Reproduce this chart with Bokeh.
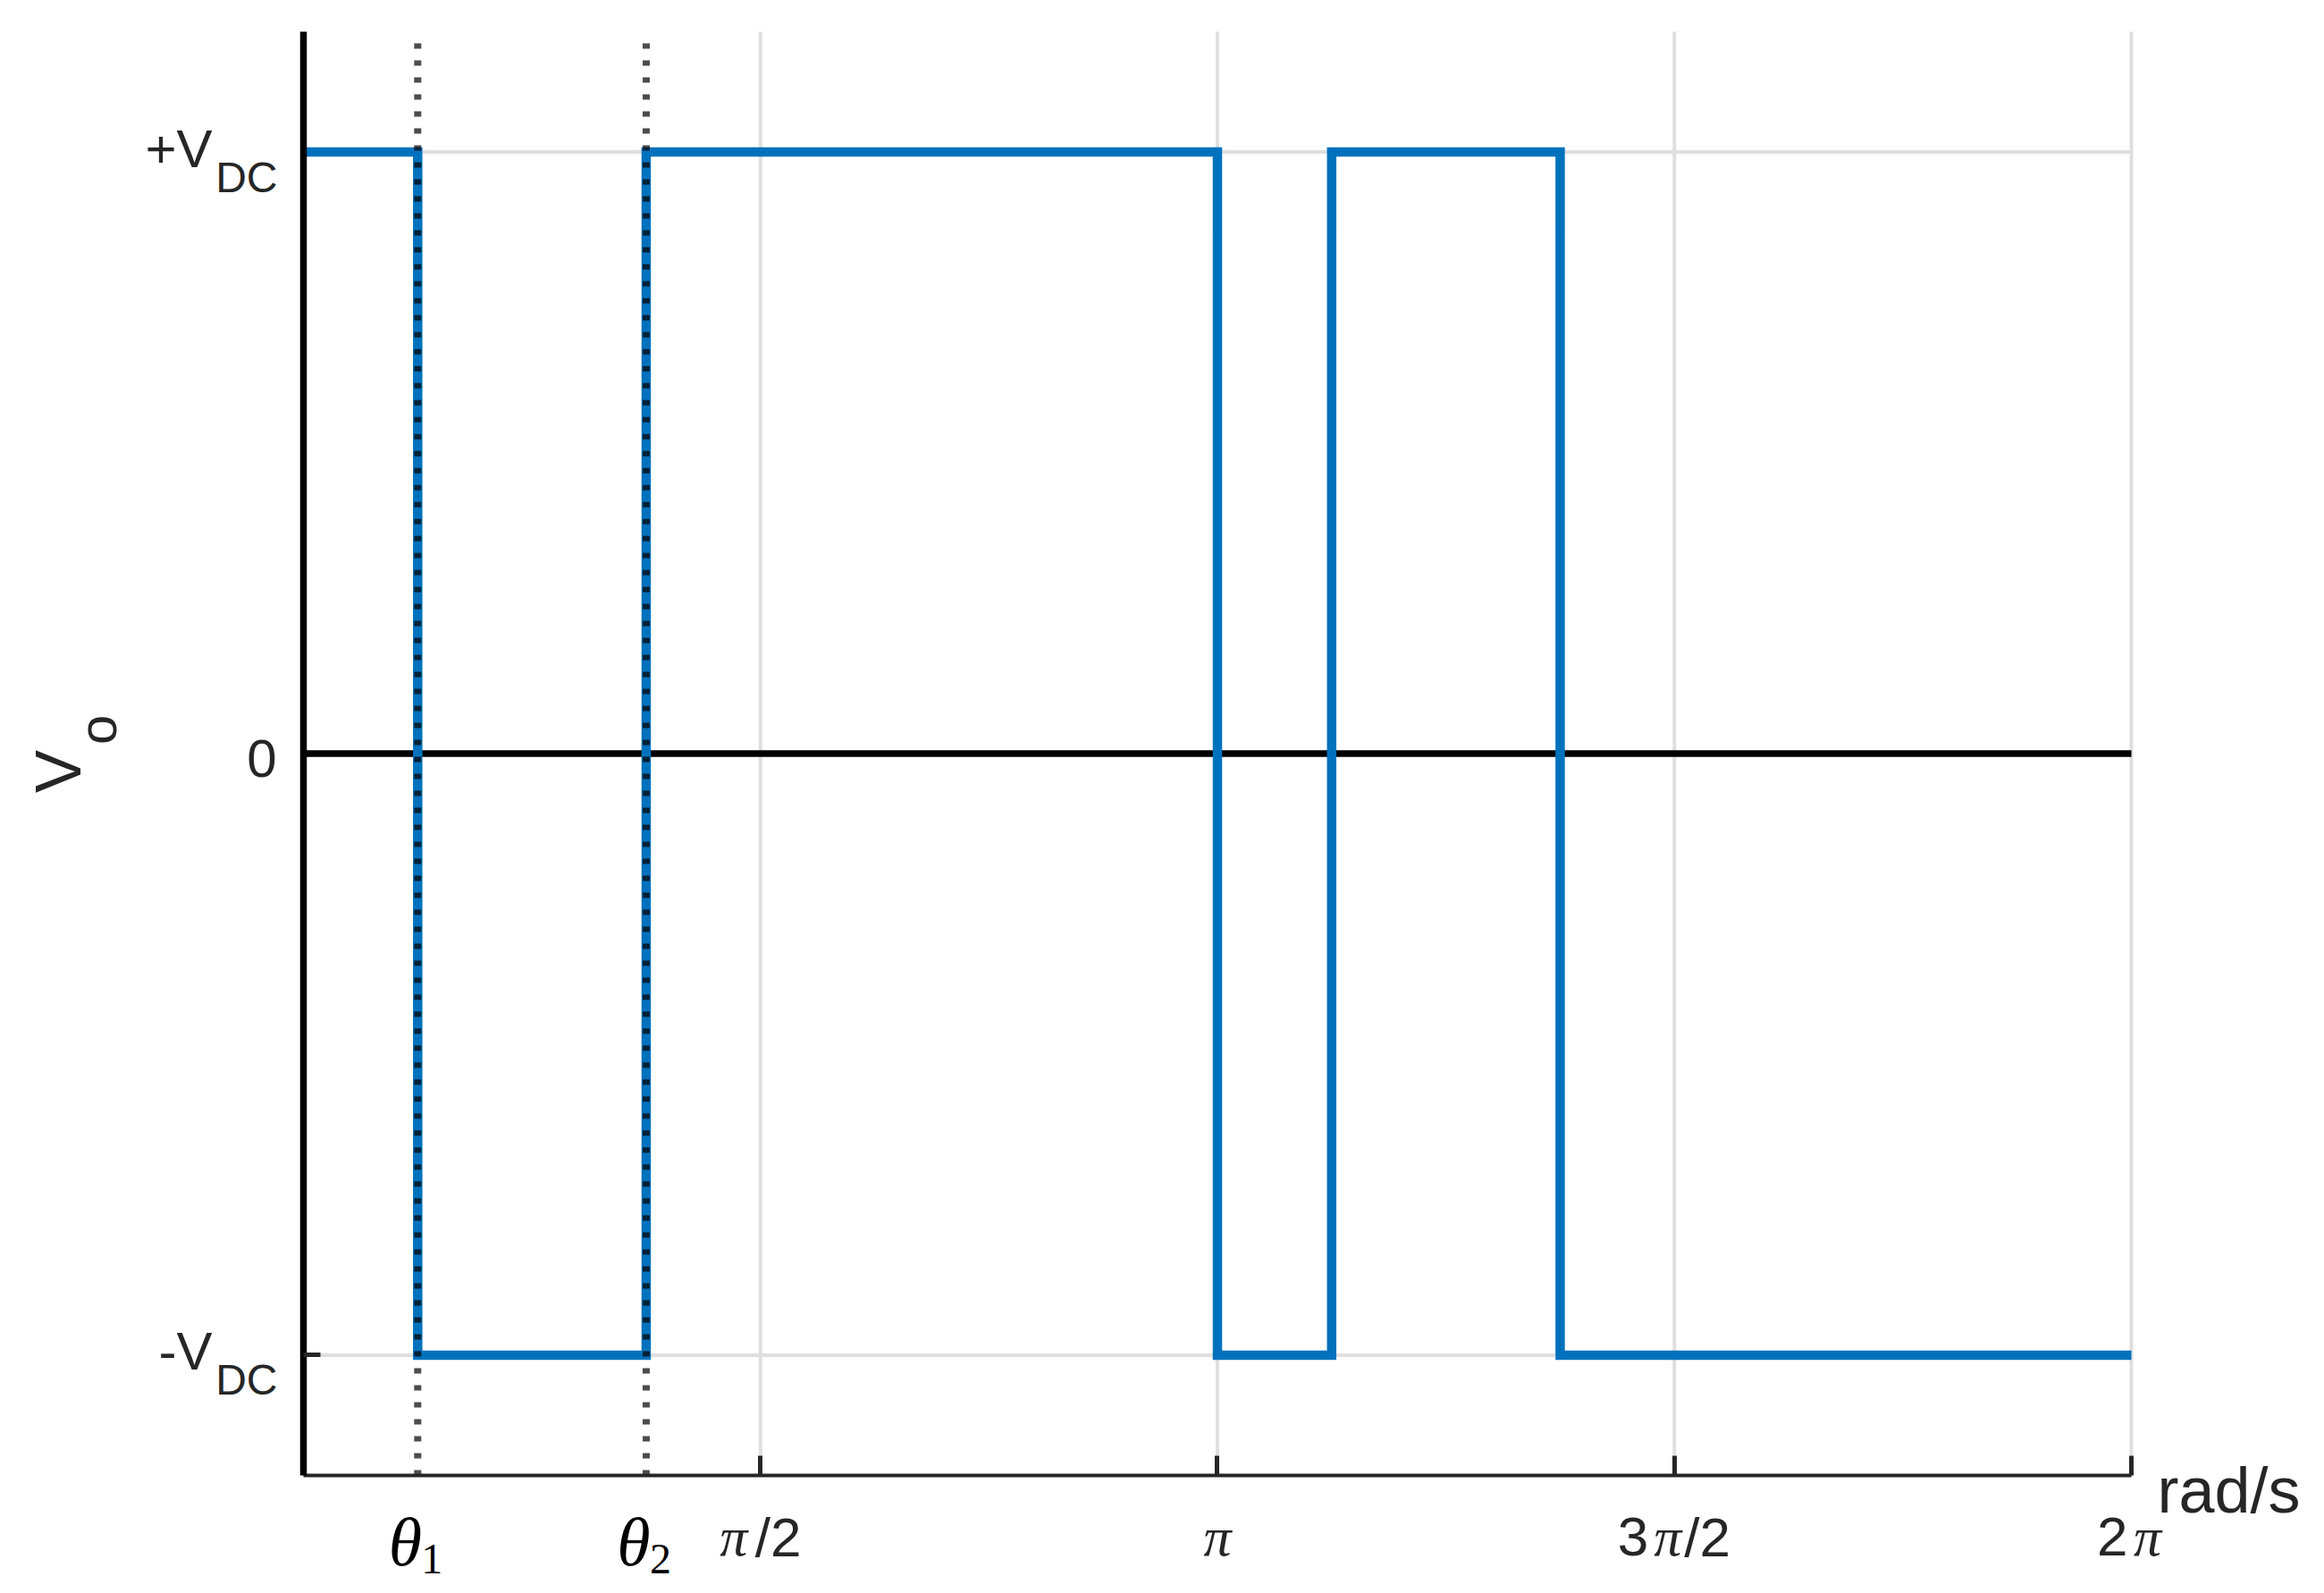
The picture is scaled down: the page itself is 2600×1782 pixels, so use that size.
import numpy as np
from bokeh.plotting import figure
from bokeh.models import Range1d, FixedTicker, Label, LinearAxis
from bokeh.embed import file_html
from bokeh.resources import INLINE

# ---------------- data ----------------
# switching instants over one period (rad) and output level after each instant
switch_angles = [0.0, 0.3927, 1.1781, 3.1416, 3.5343, 4.3197, 6.2832]
vo_levels = [1, -1, 1, -1, 1, -1, -1]

# marked switching angles theta1, theta2
theta_marks = [0.3927, 1.1781]
theta_subs = ["1", "2"]

# x ticks (rad) and their labels split into prefix / pi / suffix
x_tick_values = [np.pi / 2, np.pi, 3 * np.pi / 2, 2 * np.pi]
x_tick_pre = ["", "", "3", "2"]
x_tick_pi = ["π", "π", "π", "π"]
x_tick_post = ["/2", "", "/2", ""]

# y ticks and their labels (main text + subscript)
y_tick_values = [1, 0, -1]
y_tick_main = ["+V", "0", "-V"]
y_tick_sub = ["DC", "", "DC"]

x_min, x_max = 0.0, 2 * np.pi
y_min, y_max = -1.2, 1.2
x_unit = "rad/s"
y_name, y_sub = "V", "o"

# ---------------- styles ----------------
TXT = "#262626"
SANS = "Liberation Sans"
SERIF = "Liberation Serif"
BLUE = "#0072BD"
GRID = "#dfdfdf"

p = figure(
    frame_width=2580, frame_height=1773,
    min_border_left=5, min_border_right=5,
    min_border_top=5, min_border_bottom=1,
    x_range=Range1d(-1.02620, 6.90075), y_range=Range1d(-1.39022, 1.24458),
    x_axis_location=None, y_axis_location=None,
    output_backend="svg", toolbar_location=None,
    background_fill_color="white", border_fill_color="white",
)
p.outline_line_color = None
for g in p.grid:
    g.visible = False

# grid lines (limited to the data box)
nx, ny = len(x_tick_values), len(y_tick_values)
p.segment(x0=x_tick_values, x1=x_tick_values, y0=[y_min] * nx, y1=[y_max] * nx,
          line_color=GRID, line_width=4)
p.segment(x0=[x_min] * ny, x1=[x_max] * ny, y0=y_tick_values, y1=y_tick_values,
          line_color=GRID, line_width=4)

# zero line
p.segment(x0=[x_min], x1=[x_max], y0=[0], y1=[0], line_color="black", line_width=7.5)

# waveform
p.step(switch_angles, vo_levels, mode="after", line_color=BLUE,
       line_width=10.5, line_join="miter")

# dotted theta markers
nt = len(theta_marks)
p.segment(x0=theta_marks, x1=theta_marks, y0=[y_min] * nt, y1=[y_max] * nt,
          line_color="black", line_alpha=0.7, line_width=8, line_dash="6 13")

# axes drawn at fixed data locations
xax = LinearAxis(fixed_location=y_min, bounds=(x_min, x_max),
                 ticker=FixedTicker(ticks=x_tick_values))
yax = LinearAxis(fixed_location=x_min, bounds=(y_min, y_max),
                 ticker=FixedTicker(ticks=[y_tick_values[-1]]))
for ax in (xax, yax):
    ax.major_label_text_color = None
    ax.major_label_standoff = 0
    ax.minor_tick_line_color = None
    ax.major_tick_out = 0
    ax.major_tick_line_color = TXT
    ax.major_tick_line_width = 5
xax.major_tick_in = 22
yax.major_tick_in = 19
xax.axis_line_color = TXT
xax.axis_line_width = 4
yax.axis_line_color = "black"
yax.axis_line_width = 7.5
p.add_layout(xax, "below")
p.add_layout(yax, "left")


def lab(x, y, text, dx, dy, align, font, size, style="normal", color=TXT, angle=0.0):
    p.add_layout(Label(x=x, y=y, text=text, x_offset=dx, y_offset=dy, angle=angle,
                       text_align=align, text_baseline="alphabetic",
                       text_font=font, text_font_style=style,
                       text_font_size=f"{size}px", text_color=color))


# y tick labels
for v, m, s in zip(y_tick_values, y_tick_main, y_tick_sub):
    if s:
        lab(x_min, v, m, -102, 4, "right", SANS, 60)
        lab(x_min, v, s, -29, -28, "right", SANS, 48)
    else:
        lab(x_min, v, m, -30, -6, "right", SANS, 60)

# x tick labels (pi multiples)
pre_off = [0, 0, -29, -4]
pi_off = [-30, 0, -7.5, 18]
post_off = [-6, 0, 11, 0]
for i, xv in enumerate(x_tick_values):
    if x_tick_pre[i]:
        lab(xv, y_min, x_tick_pre[i], pre_off[i], -69, "right", SANS, 62)
    lab(xv, y_min, x_tick_pi[i], pi_off[i], -69, "center", SERIF, 62, style="italic")
    if x_tick_post[i]:
        lab(xv, y_min, x_tick_post[i], post_off[i], -69, "left", SANS, 62)

# theta tick labels
for th, sub in zip(theta_marks, theta_subs):
    lab(th, y_min, "θ", -14, -75, "center", SERIF, 76, style="italic", color="black")
    lab(th, y_min, sub, 4, -94, "left", SERIF, 48, color="black")

# x unit label
lab(x_max, y_min, x_unit, 29, -17, "left", SANS, 72)

# y axis label (rotated) with subscript
lab(x_min, 0, y_name, -274, -44, "left", SANS, 72, angle=np.pi / 2)
lab(x_min, 0, y_sub, -230, 10, "left", SANS, 60, angle=np.pi / 2)

open("out.html", "w").write(file_html(p, INLINE))
